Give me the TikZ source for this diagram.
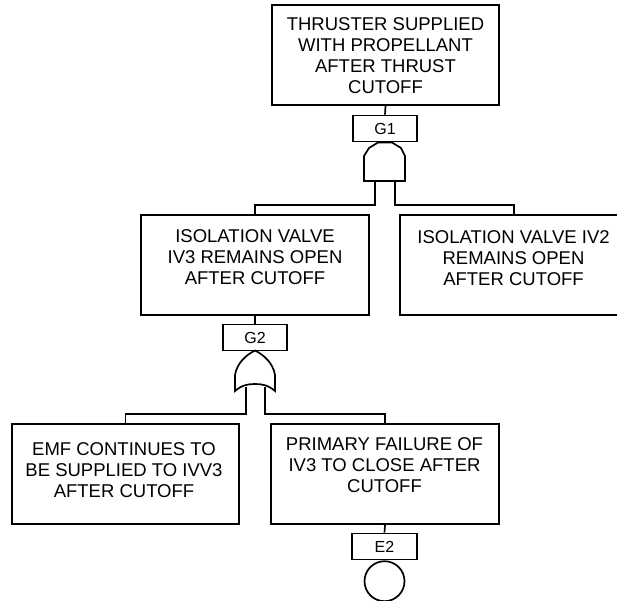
\documentclass[tikz,border=0pt]{standalone}
\usepackage{fontspec}
\setmainfont{Liberation Sans}
\begin{document}
\begin{tikzpicture}[x=1pt,y=-1pt,
  line width=1.7pt, line join=miter,
  evbox/.style={draw, rectangle, minimum height=100pt, inner sep=0pt},
  evtext/.style={align=center, inner sep=0pt, font=\fontsize{18.5}{21}\selectfont},
  gbox/.style={draw, rectangle, minimum width=64pt, minimum height=26pt, inner sep=0pt, font=\fontsize{16}{18}\selectfont}]
\clip (0,0) rectangle (617,600);
% top event
\node[evbox, minimum width=227pt] (b1) at (385.5,55) {};
\node[evtext] (t1) at (385.5,56) {THRUSTER SUPPLIED\\WITH PROPELLANT\\AFTER THRUST\\CUTOFF};
\node[gbox] (g1) at (385,128.5) {G1};
\draw (b1.south) -- (g1.north);
% AND gate
\draw (364,181) -- (364,156) -- (369,148) -- (378,142.5) -- (392,142.5) -- (401,148) -- (405,156) -- (405,181) -- cycle;
\coordinate (a1) at (375,181);
\coordinate (a2) at (395,181);
% middle events
\node[evbox, minimum width=228pt] (b2) at (255,265) {};
\node[evtext] (t2) at (255,257) {ISOLATION VALVE\\IV3 REMAINS OPEN\\AFTER CUTOFF};
\node[evbox, minimum width=228pt] (b3) at (514,265) {};
\node[evtext] (t3) at (513.5,258.5) {ISOLATION VALVE IV2\\REMAINS OPEN\\AFTER CUTOFF};
\draw (a1) -- (375,205) -| (b2.north);
\draw (a2) -- (395,205) -| (b3.north);
% G2
\node[gbox] (g2) at (255,337.5) {G2};
\draw (b2.south) -- (g2.north);
% OR gate
\draw (235,391) -- (235,375) .. controls (237,363) and (246,355) .. (255,350.5)
  .. controls (264,355) and (273,363) .. (275,375) -- (275,391)
  .. controls (268,385) and (262,384) .. (255,384)
  .. controls (248,384) and (242,385) .. (235,391) -- cycle;
\coordinate (o1) at (246,386.5);
\coordinate (o2) at (265,386.5);
% bottom events
\node[evbox, minimum width=227pt] (b4) at (125.5,474) {};
\node[evtext] (t4) at (124,470) {EMF CONTINUES TO\\BE SUPPLIED TO IVV3\\AFTER CUTOFF};
\node[evbox, minimum width=228pt] (b5) at (385,474) {};
\node[evtext] (t5) at (384.5,465.5) {PRIMARY FAILURE OF\\IV3 TO CLOSE AFTER\\CUTOFF};
\draw (o1) -- (246,414) -| (b4.north);
\draw (o2) -- (265,414) -| (b5.north);
% E2 basic event
\node[gbox, minimum width=65pt] (e2) at (384.5,546.5) {E2};
\draw (b5.south) -- (e2.north);
\node[draw, circle, minimum size=40pt, inner sep=0pt, anchor=north] (c1) at (e2.south) {};
\end{tikzpicture}
\end{document}
